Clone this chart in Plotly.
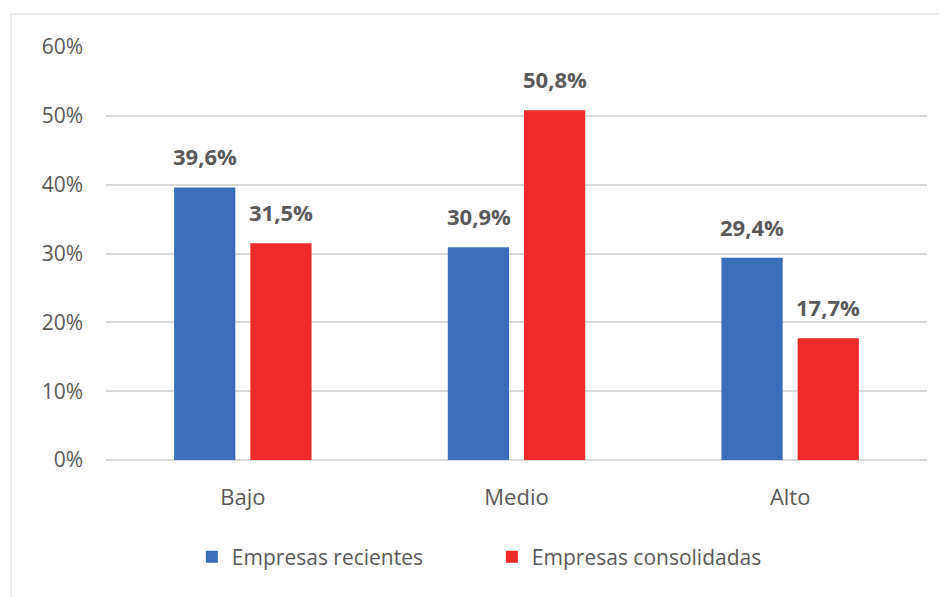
import plotly.graph_objects as go

categories = ["Bajo", "Medio", "Alto"]
recientes = [39.6, 30.9, 29.4]
consolidadas = [31.5, 50.8, 17.7]
series_names = ["Empresas recientes", "Empresas consolidadas"]
tick_vals = [0, 10, 20, 30, 40, 50, 60]
tick_text = [f"{v}%" for v in tick_vals]

BLUE = "#3A6DBA"
RED = "#EE2A2A"
GRAY = "#595959"
FONT = "Open Sans"

# figure coordinates (page body adds an 8px offset)
L, R, T, B = 98, 28, 39, 145
PW = 947 - L - R
PH = 597 - T - B

fig = go.Figure()
fig.add_trace(go.Bar(x=categories, y=recientes, name=series_names[0],
                     marker=dict(color=BLUE, line=dict(width=0))))
fig.add_trace(go.Bar(x=categories, y=consolidadas, name=series_names[1],
                     marker=dict(color=RED, line=dict(width=0))))

annotations = []
for vals, shift in ((recientes, -38), (consolidadas, 38)):
    for c, v in zip(categories, vals):
        annotations.append(dict(
            x=c, y=v, xref="x", yref="y", text=f"{v:.1f}%".replace(".", ","),
            showarrow=False, xshift=shift, yshift=31,
            font=dict(family=FONT, size=22, color=GRAY, weight="bold")))

fig.update_layout(
    width=947, height=597,
    margin=dict(l=L, r=R, t=T, b=B),
    paper_bgcolor="white", plot_bgcolor="white",
    barmode="group", bargap=0.443, bargroupgap=0.197,
    font=dict(family=FONT, size=21, color=GRAY),
    separators=",.",
    showlegend=True,
    legend=dict(orientation="h", x=0.47, xanchor="center", y=-0.235, yanchor="middle",
                font=dict(family=FONT, size=21, color=GRAY),
                itemsizing="constant", traceorder="normal", entrywidth=255),
    annotations=annotations,
    shapes=[dict(type="rect", xref="paper", yref="paper",
                 x0=(3 - L) / PW, x1=(960 - L) / PW,
                 y0=(PH + T - 620) / PH, y1=(PH + T - 6) / PH,
                 line=dict(color="#E6E6E6", width=1.5), layer="below")],
)
fig.update_xaxes(showgrid=False, showline=False, ticks="", ticklabelstandoff=22,
                 tickfont=dict(family=FONT, size=22, color=GRAY))
fig.update_yaxes(range=[0, 60], tickvals=tick_vals, ticktext=tick_text,
                 showgrid=True, gridcolor="#D9D9D9", gridwidth=1.5,
                 zeroline=True, zerolinecolor="#D9D9D9", zerolinewidth=1.5,
                 showline=False, ticks="", ticklabelstandoff=22,
                 tickfont=dict(family=FONT, size=21, color=GRAY))

fig.write_html("out.html")
